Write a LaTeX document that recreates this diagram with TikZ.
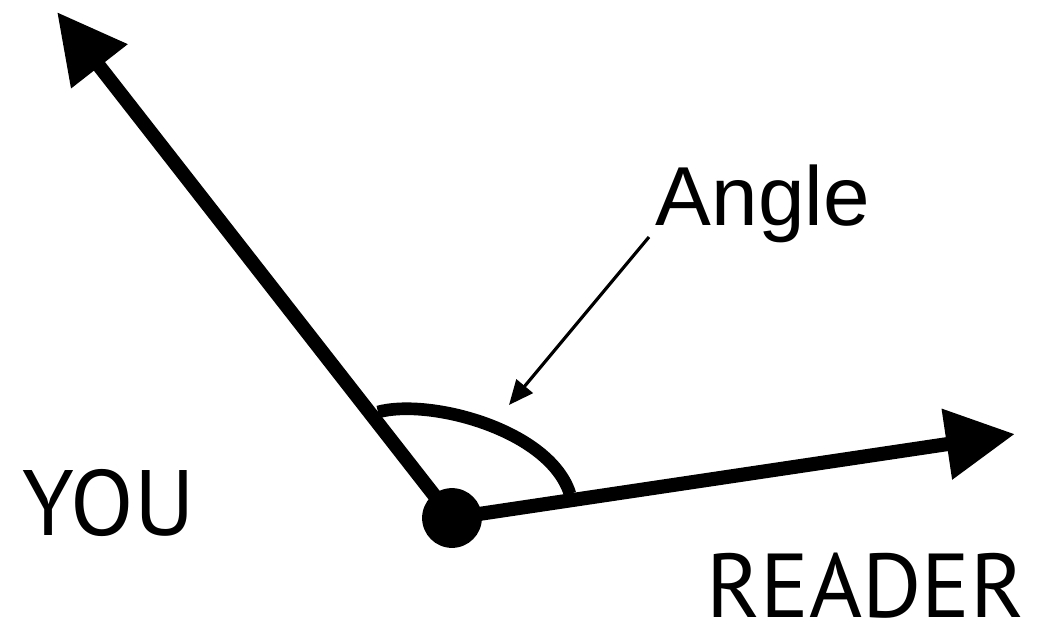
\documentclass[tikz,border=0pt]{standalone}
\usepackage{fontspec}
\usepackage{tikz}
\usetikzlibrary{arrows.meta}
\newfontfamily\capsfont{PT Sans}
\newfontfamily\anglefont{Liberation Sans}

\begin{document}
\begin{tikzpicture}[x=0.01cm, y=-0.01cm,
  every node/.style={inner sep=0pt, anchor=base west},
  bigarrow/.style={line width=4pt, -{Triangle[length=19.6pt,width=19.3pt]}},
  thinarrow/.style={line width=0.9pt, -{Triangle[length=7pt,width=6pt]}},
  hubdot/.style={circle, fill=black, minimum size=17pt, anchor=center}]
\useasboundingbox (0,0) rectangle (1038,624);
\coordinate (youtip) at (57,12);
\coordinate (readertip) at (1015,434);
\coordinate (arcstart) at (378,412);
\coordinate (arcend) at (570,494);
\coordinate (pointer) at (649,237);
\coordinate (pointertip) at (509,405);
\draw[bigarrow] (452,518) -- (youtip);
\draw[bigarrow] (452,518) -- (readertip);
\draw[line width=3.6pt] (arcstart) .. controls (430,398) and (550,430) .. (arcend);
\node[hubdot] (hub) at (452,518) {};
\node (anglelabel) at (655,225) {\anglefont\fontsize{23.8}{28}\selectfont Angle};
\draw[thinarrow] (pointer) -- (pointertip);
\node (you) at (22,535) {\capsfont\fontsize{26.4}{31}\selectfont YOU};
\node (reader) at (706,617) {\capsfont\fontsize{25.8}{31}\selectfont READER};
\end{tikzpicture}
\end{document}
